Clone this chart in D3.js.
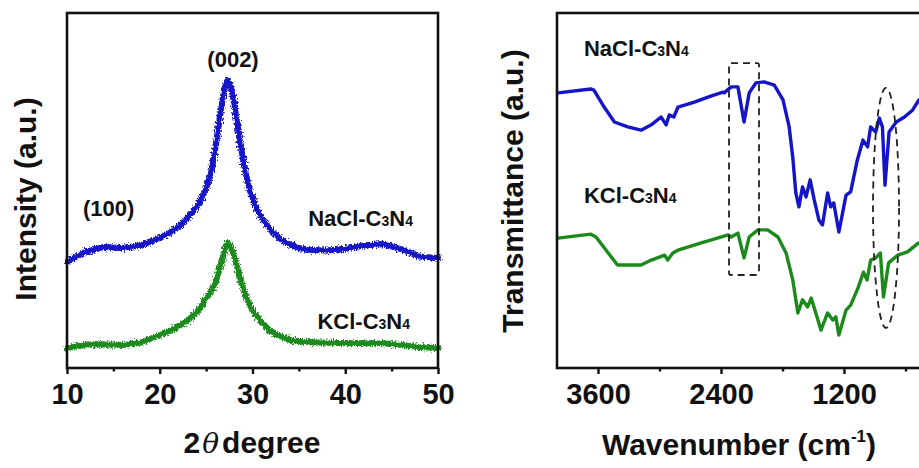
<!DOCTYPE html>
<html lang="en">
<head>
  <meta charset="UTF-8">
  <title>XRD and FTIR of NaCl-C3N4 and KCl-C3N4</title>
  <script src="https://d3js.org/d3.v7.min.js"></script>
  <style>
    body { margin: 0; background: #fff; }
    svg text {
      font-family: Arial, "Liberation Sans", sans-serif;
      font-weight: bold;
      fill: #111;
    }
    .frame { fill: none; stroke: #111; stroke-width: 2.6; }
    .axis .tick line { stroke: #111; stroke-width: 2.4; }
    .axis .tick text { font-size: 29px; }
    .label { font-size: 22px; }
    .title { font-size: 30px; }
    .curve { fill: none; stroke-linejoin: round; stroke-linecap: round; }
    .guide { fill: none; stroke: #222; stroke-width: 1.8; stroke-dasharray: 7 5; }
  </style>
</head>
<body>
  <div id="chart"></div>

  <script>
    // ---- XRD data (2theta, intensity a.u.) ----
    const xrdAngle = [10, 12, 14, 16, 18, 20, 21, 22, 23, 24, 24.5, 25, 25.5, 26, 26.5, 27, 27.3, 27.6,
      28, 28.5, 29, 29.5, 30, 30.5, 31, 32, 33, 34, 35, 36, 38, 40, 42, 44, 46, 48, 50];
    const xrdNaCl = [299, 327, 341, 338, 346, 366, 380, 397, 423, 454, 478, 507, 545, 620, 712, 792, 811, 800,
      750, 665, 586, 520, 480, 445, 422, 388, 362, 348, 338, 333, 331, 336, 345, 349, 335, 314, 310];
    const xrdKCl = [56, 66, 67, 65, 72, 93, 103, 118, 133, 158, 175, 196, 215, 240, 285, 332, 352, 345,
      318, 270, 225, 188, 162, 145, 128, 102, 90, 80, 74, 73, 71, 70, 70, 70, 65, 59, 56];
    const xrdMajor = [10, 20, 30, 40, 50];
    const xrdMinor = [15, 25, 35, 45];

    // ---- FTIR data (wavenumber cm-1, transmittance a.u.) ----
    const irWnNaCl = [3990, 3670, 3640, 3540, 3440, 3310, 3180, 3080, 2985, 2935, 2905, 2860, 2820, 2660,
      2500, 2380, 2370, 2300, 2235, 2175, 2125, 2060, 1980, 1880, 1795, 1735, 1700, 1670, 1640, 1605,
      1570, 1530, 1490, 1445, 1410, 1360, 1330, 1300, 1250, 1180, 1135, 1070, 1015, 970, 940, 890,
      855, 825, 800, 760, 690, 610, 530, 470];
    const irNaCl = [77.5, 78.6, 78.3, 73.5, 69.3, 67.9, 67.0, 68.5, 70.7, 68.5, 71.3, 70.7, 73.5, 74.9,
      76.6, 77.7, 77.5, 79.2, 79.2, 69.3, 77.5, 80.3, 80.6, 79.7, 75.5, 67.9, 59.4, 49.3, 45.4, 51.0,
      48.2, 53.0, 47.3, 41.7, 40.3, 49.3, 45.4, 46.5, 38.3, 48.7, 49.6, 58.6, 64.2, 62.3, 67.9, 66.5,
      70.4, 67.9, 51.5, 66.5, 69.3, 70.7, 72.7, 75.5];
    const irWnKCl = [3990, 3670, 3620, 3500, 3410, 3180, 3080, 2950, 2920, 2870, 2820, 2600, 2330, 2300,
      2235, 2175, 2125, 2040, 1945, 1845, 1765, 1700, 1650, 1605, 1555, 1520, 1475, 1425, 1360, 1310,
      1280, 1250, 1180, 1135, 1060, 1010, 975, 940, 890, 845, 815, 765, 675, 580, 475];
    const irKCl = [36.6, 37.7, 36.9, 32.4, 29.0, 29.0, 30.4, 31.8, 30.4, 32.4, 33.2, 35.2, 37.5, 36.9,
      38.0, 31.0, 36.9, 38.9, 38.9, 36.9, 32.4, 24.8, 15.5, 19.2, 17.2, 19.7, 15.5, 10.7, 15.5, 13.5,
      14.4, 9.3, 16.3, 17.7, 22.8, 27.0, 24.8, 30.4, 31.0, 32.4, 20.0, 29.6, 31.8, 32.7, 35.2];
    const irMajor = [3600, 2400, 1200];
    const irMinor = [3000, 1800, 600];

    const blue = "#1414c8";
    const green = "#1b8a1b";

    const svg = d3.select("#chart").append("svg")
      .attr("width", 919)
      .attr("height", 468);

    // grainy look for the XRD traces (visual texture only)
    const flt = svg.append("defs").append("filter").attr("id", "grain")
      .attr("x", "-5%").attr("y", "-20%").attr("width", "110%").attr("height", "140%");
    flt.append("feTurbulence").attr("type", "fractalNoise")
      .attr("baseFrequency", "0.9 0.5").attr("numOctaves", 2).attr("seed", 3).attr("result", "n");
    flt.append("feDisplacementMap").attr("in", "SourceGraphic").attr("in2", "n")
      .attr("scale", 7).attr("xChannelSelector", "R").attr("yChannelSelector", "G");

    // helper: bottom axis with major labelled and minor unlabelled ticks
    function bottomAxis(scale, y, major, minor) {
      const g = svg.append("g").attr("class", "axis").attr("transform", `translate(0,${y})`);
      g.append("g")
        .call(d3.axisBottom(scale).tickValues(major).tickFormat(d3.format("d"))
          .tickSize(6).tickPadding(9))
        .attr("font-size", null).attr("font-family", null)
        .call(s => s.select(".domain").remove());
      g.append("g")
        .call(d3.axisBottom(scale).tickValues(minor).tickSize(3.5).tickFormat(""))
        .call(s => s.select(".domain").remove());
    }

    // label with small subscript digits
    function chemLabel(g, x, y, parts) {
      const t = g.append("text").attr("class", "label").attr("x", x).attr("y", y);
      parts.forEach(p => {
        const s = t.append("tspan").text(p[0]);
        if (p.length > 1) s.attr("font-size", p[1]);
      });
      return t;
    }

    // ================= Left panel: XRD =================
    const xrdX = d3.scaleLinear().domain([10, 50]).range([67, 438]);
    const xrdY = d3.scaleLinear().domain([0, 1000]).range([368, 13]);
    const xrdLine = (vals) => d3.line()
      .x((d, i) => xrdX(xrdAngle[i]))
      .y(d => xrdY(d))(vals);

    [[xrdNaCl, blue], [xrdKCl, green]].forEach(([vals, col]) => {
      svg.append("path").attr("class", "curve").attr("d", xrdLine(vals))
        .attr("stroke", col).attr("stroke-width", 3.5);
      svg.append("path").attr("class", "curve").attr("d", xrdLine(vals))
        .attr("stroke", col).attr("stroke-width", 6).attr("filter", "url(#grain)");
    });

    svg.append("rect").attr("class", "frame")
      .attr("x", xrdX(10)).attr("y", xrdY(1000))
      .attr("width", xrdX(50) - xrdX(10)).attr("height", xrdY(0) - xrdY(1000));
    bottomAxis(xrdX, xrdY(0), xrdMajor, xrdMinor);

    const left = svg.append("g");
    left.append("text").attr("class", "label").attr("text-anchor", "middle")
      .attr("x", xrdX(27.9)).attr("y", xrdY(848)).text("(002)");
    left.append("text").attr("class", "label").attr("text-anchor", "middle")
      .attr("x", xrdX(14.5)).attr("y", xrdY(428)).text("(100)");
    chemLabel(left, xrdX(36.0), xrdY(400), [["NaCl-C"], ["3", 14], ["N"], ["4", 14]]);
    chemLabel(left, xrdX(37.0), xrdY(110), [["KCl-C"], ["3", 14], ["N"], ["4", 14]]);

    left.append("text").attr("class", "title")
      .attr("transform", `translate(36,199) rotate(-90)`)
      .attr("text-anchor", "middle").text("Intensity (a.u.)");
    const xt = left.append("text").attr("class", "title").attr("text-anchor", "middle")
      .attr("x", 252).attr("y", 453);
    xt.append("tspan").text("2");
    xt.append("tspan").text("\u03B8").attr("font-style", "italic").attr("font-weight", "normal")
      .attr("font-family", "'DejaVu Serif', serif").attr("font-size", 28).attr("dx", 2);
    xt.append("tspan").text("degree").attr("dx", 3);

    // ================= Right panel: FTIR =================
    const irX = d3.scaleLinear().domain([4000, 400]).range([557, 926]);
    const irY = d3.scaleLinear().domain([0, 100]).range([368, 13]);
    const irLine = (wn, vals) => d3.line()
      .x((d, i) => irX(wn[i]))
      .y(d => irY(d))(vals);

    svg.append("path").attr("class", "curve").attr("d", irLine(irWnNaCl, irNaCl))
      .attr("stroke", blue).attr("stroke-width", 3.4);
    svg.append("path").attr("class", "curve").attr("d", irLine(irWnKCl, irKCl))
      .attr("stroke", green).attr("stroke-width", 3.4);

    svg.append("rect").attr("class", "frame")
      .attr("x", irX(4000)).attr("y", irY(100))
      .attr("width", irX(400) - irX(4000)).attr("height", irY(0) - irY(100));
    bottomAxis(irX, irY(0), irMajor, irMinor);

    // dashed guides around the 2170 cm-1 and 800 cm-1 bands
    svg.append("rect").attr("class", "guide")
      .attr("x", irX(2322)).attr("y", irY(85.9))
      .attr("width", irX(2029) - irX(2322)).attr("height", irY(26.2) - irY(85.9))
      .attr("rx", 2);
    svg.append("ellipse").attr("class", "guide")
      .attr("cx", irX(790)).attr("cy", irY(45.1))
      .attr("rx", irX(663) - irX(790)).attr("ry", irY(45.1) - irY(78.9));

    const right = svg.append("g");
    chemLabel(right, irX(3737), irY(87.9), [["NaCl-C"], ["3", 14], ["N"], ["4", 14]]);
    chemLabel(right, irX(3737), irY(46.5), [["KCl-C"], ["3", 14], ["N"], ["4", 14]]);

    right.append("text").attr("class", "title")
      .attr("transform", `translate(523,191) rotate(-90)`)
      .attr("text-anchor", "middle").text("Transmittance (a.u.)");
    const wt = right.append("text").attr("class", "title").attr("text-anchor", "middle")
      .attr("x", 739).attr("y", 455).attr("font-size", 31);
    wt.append("tspan").text("Wavenumber (cm");
    wt.append("tspan").text("-1").attr("font-size", 17).attr("dy", -13);
    wt.append("tspan").text(")").attr("dy", 13);
  </script>
</body>
</html>
